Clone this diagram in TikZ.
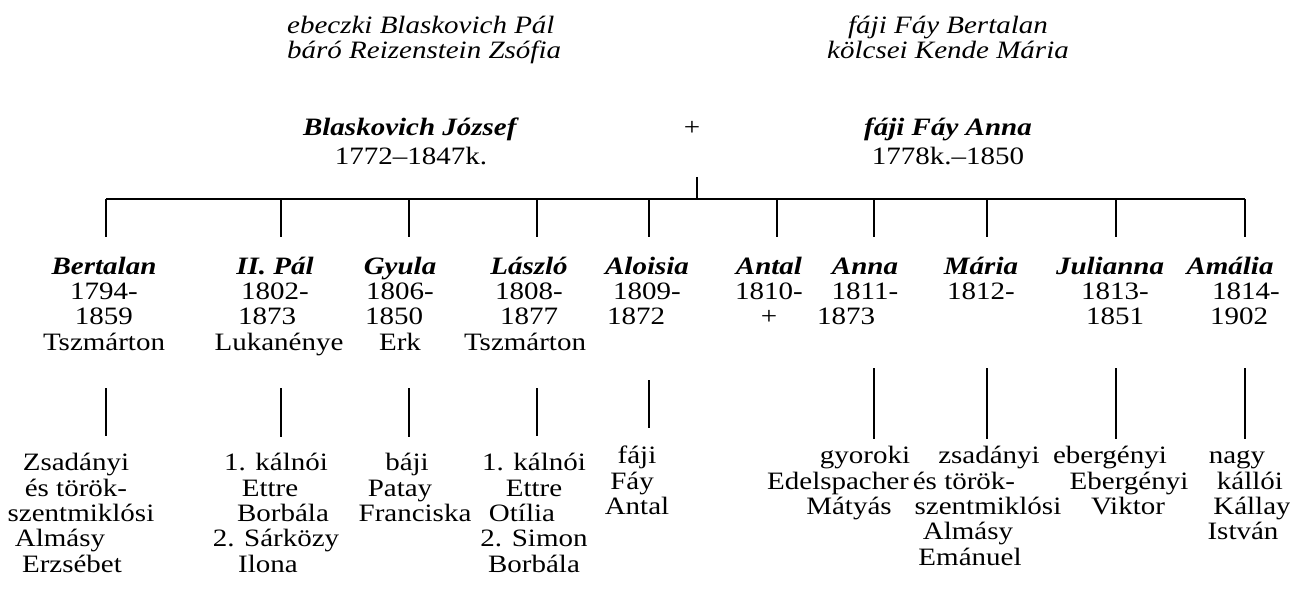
\documentclass[tikz,border=0pt]{standalone}
\usepackage{fontspec}
\setmainfont{Liberation Serif}[FakeStretch=1.16]
\newcommand\fz{\fontsize{25}{25.3}\selectfont\lineskiplimit=-100pt\relax}
\newcommand\fst{\rule{0pt}{18pt}}
\newcommand\bn[1]{\textbf{\textit{#1}}}
\newcommand\mv[2]{\leavevmode\hbox{\kern#1\relax#2\kern-#1\relax}}
\tikzset{
  blk/.style={anchor=north, inner sep=0pt, align=center, font=\fz},
  lblk/.style={anchor=north west, inner sep=0pt, align=left, font=\fz},
  ln/.style={line width=1.4pt, black}
}
\begin{document}
\begin{tikzpicture}[x=1pt,y=-1pt]
\fill[white] (0,0) rectangle (1290,604);
\useasboundingbox (0,0) rectangle (1290,604);
% grandparents
\node[lblk] (gpl) at (287,15) {\fst\textit{ebeczki Blaskovich Pál}\\\textit{báró Reizenstein Zsófia}};
\node[blk] (gpr) at (948,15) {\fst\textit{fáji Fáy Bertalan}\\\textit{kölcsei Kende Mária}};
% parents
\node[blk] (fa) at (411,117) {\fst\bn{Blaskovich József}\\[4pt]1772–1847k.};
\node[blk] (plus) at (692,117) {\fst+};
\node[blk] (mo) at (948,117) {\fst\bn{fáji Fáy Anna}\\[4pt]1778k.–1850};
% children
\node[blk] (c1) at (104,256) {\fst\bn{Bertalan}\\1794-\\1859\\Tszmárton};
\node[blk] (c2) at (275,256) {\fst\bn{II. Pál}\\1802-\\\mv{-8pt}{1873}\\\mv{4pt}{Lukanénye}};
\node[blk] (c3) at (400,256) {\fst\bn{Gyula}\\1806-\\\mv{-6pt}{1850}\\Erk};
\node[blk] (c4) at (529,256) {\fst\bn{László}\\1808-\\1877\\\mv{-4pt}{Tszmárton}};
\node[blk] (c5) at (647,256) {\fst\bn{Aloisia}\\1809-\\\mv{-11pt}{1872}};
\node[blk] (c6) at (769,256) {\fst\bn{Antal}\\1810-\\+};
\node[blk] (c7) at (865,256) {\fst\bn{Anna}\\1811-\\\mv{-19pt}{1873}};
\node[blk] (c8) at (981,256) {\fst\bn{Mária}\\1812-};
\node[blk] (c9) at (1115,256) {\fst\mv{-5pt}{\bn{Julianna}}\\1813-\\1851};
\node[blk] (c10) at (1239,256) {\fst\mv{-9pt}{\bn{Amália}}\\\mv{7pt}{1814-}\\1902};
% spouses
\node[blk] (s1) at (76,452.6) {\fst Zsadányi\\és török-\\\mv{5pt}{szentmiklósi}\\\mv{-16pt}{Almásy}\\\mv{-4pt}{Erzsébet}};
\node[blk] (s2) at (276,452.6) {\fst 1. kálnói\\\mv{-6pt}{Ettre}\\\mv{7pt}{Borbála}\\2. Sárközy\\\mv{-8pt}{Ilona}};
\node[blk] (s3) at (407,452.6) {\fst báji\\\mv{-7pt}{Patay}\\\mv{8pt}{Franciska}};
\node[blk] (s4) at (534,452.6) {\fst 1. kálnói\\Ettre\\\mv{-12pt}{Otília}\\2. Simon\\Borbála};
\node[blk] (s5) at (637,445.6) {\fst fáji\\\mv{-5pt}{Fáy}\\Antal};
\node[blk] (s7) at (845,445.6) {\fst\mv{20pt}{gyoroki}\\\mv{-7pt}{Edelspacher}\\\mv{4pt}{Mátyás}};
\node[blk] (s8) at (978,445.6) {\fst\mv{11pt}{zsadányi}\\\mv{-14pt}{és török-}\\\mv{10pt}{szentmiklósi}\\\mv{-10pt}{Almásy}\\\mv{-8pt}{Emánuel}};
\node[blk] (s9) at (1122,445.6) {\fst\mv{-12pt}{ebergényi}\\\mv{7pt}{Ebergényi}\\\mv{6pt}{Viktor}};
\node[blk] (s10) at (1246,445.6) {\fst\mv{-9pt}{nagy}\\\mv{4pt}{kállói}\\\mv{6pt}{Kállay}\\\mv{-3pt}{István}};
% connector coordinates
\coordinate (cpl) at (697,177);
\coordinate (cplb) at (697,199);
\coordinate (barL) at (106,199);
\coordinate (barR) at (1245,199);
\foreach \i/\x in {1/106,2/281,3/409,4/537,5/649,6/777,7/874,8/987,9/1116,10/1245}{
  \coordinate (u\i) at (\x,199);
  \coordinate (ue\i) at (\x,237);
}
\foreach \i/\x/\a/\b in {1/106/388/436,2/281/388/437,3/409/388/437,4/537/388/436,5/649/380/428,7/874/368/439,8/987/368/439,9/1116/368/439,10/1245/368/439}{
  \coordinate (la\i) at (\x,\a);
  \coordinate (lb\i) at (\x,\b);
}
% connectors
\draw[ln] (cpl) -- (cplb);
\draw[ln] (barL) -- (barR);
\foreach \i in {1,...,10}{ \draw[ln] (u\i) -- (ue\i); }
\foreach \i in {1,2,3,4,5,7,8,9,10}{ \draw[ln] (la\i) -- (lb\i); }
\end{tikzpicture}
\end{document}
